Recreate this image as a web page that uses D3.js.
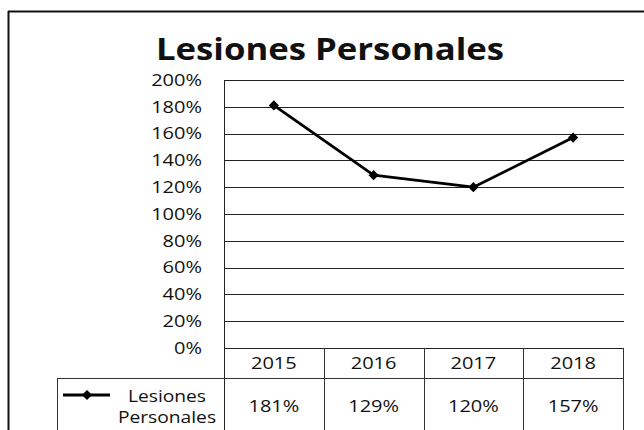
<!DOCTYPE html>
<html>
<head>
<meta charset="utf-8">
<script src="https://cdn.jsdelivr.net/npm/d3@7"></script>
<style>
  html, body { margin: 0; padding: 0; background: #fff; }
  svg { display: block; }
  text { font-family: "Open Sans", "Noto Sans", sans-serif; fill: #111; }
</style>
</head>
<body>
<svg id="chart" width="644" height="430"></svg>
<script>
// Data
const title = "Lesiones Personales";
const seriesName = ["Lesiones", "Personales"];
const years = ["2015", "2016", "2017", "2018"];
const values = [1.81, 1.29, 1.20, 1.57];
const yTicks = [0, 0.2, 0.4, 0.6, 0.8, 1.0, 1.2, 1.4, 1.6, 1.8, 2.0];

const svg = d3.select("#chart");
const W = 644, H = 430;

// Plot frame
const plot = { left: 224, right: 623, top: 80, bottom: 348 };
const table = { headerBottom: 378, bottom: 445, legendLeft: 57 };

const x = d3.scaleBand().domain(years).range([plot.left, plot.right]).padding(0);
const y = d3.scaleLinear().domain([0, 2]).range([plot.bottom, plot.top]);
const fmtPct = d3.format(".0%");

// Widen glyphs horizontally by a factor while keeping the anchor
function stretch(sel, k) {
  sel.each(function () {
    const n = this.getComputedTextLength();
    d3.select(this).attr("textLength", n * k).attr("lengthAdjust", "spacingAndGlyphs");
  });
  return sel;
}

// Outer frame (top and left edges)
svg.append("line").attr("x1", 8).attr("x2", W).attr("y1", 11.5).attr("y2", 11.5)
  .attr("stroke", "#111").attr("stroke-width", 2);
svg.append("line").attr("x1", 8.5).attr("x2", 8.5).attr("y1", 11).attr("y2", H)
  .attr("stroke", "#111").attr("stroke-width", 2);

// Title
svg.append("text")
  .attr("x", 330).attr("y", 60)
  .attr("text-anchor", "middle")
  .attr("font-size", 31).attr("font-weight", 700)
  .text(title)
  .call(stretch, 1.12);

// Horizontal gridlines
svg.append("g").selectAll("line")
  .data(yTicks)
  .join("line")
  .attr("x1", plot.left).attr("x2", plot.right + 1)
  .attr("y1", d => Math.round(y(d)) + 0.5).attr("y2", d => Math.round(y(d)) + 0.5)
  .attr("stroke", "#222").attr("stroke-width", 1);

// Y axis tick labels
svg.append("g").selectAll("text")
  .data(yTicks)
  .join("text")
  .attr("x", 202).attr("y", d => y(d))
  .attr("dy", "0.36em")
  .attr("text-anchor", "end")
  .attr("font-size", 16)
  .text(d => fmtPct(d))
  .call(stretch, 1.25);

// Left axis line running down through the table
svg.append("line")
  .attr("x1", plot.left + 0.5).attr("x2", plot.left + 0.5)
  .attr("y1", plot.top).attr("y2", table.bottom)
  .attr("stroke", "#222").attr("stroke-width", 1);

// Data table: column dividers and right edge
const edges = years.map(d => x(d)).concat([x.range()[1]]).slice(1);
svg.append("g").selectAll("line")
  .data(edges)
  .join("line")
  .attr("x1", d => Math.round(d) + 0.5).attr("x2", d => Math.round(d) + 0.5)
  .attr("y1", plot.bottom).attr("y2", table.bottom)
  .attr("stroke", "#333").attr("stroke-width", 1);

// Row divider between header and value row (includes legend cell)
svg.append("line")
  .attr("x1", table.legendLeft).attr("x2", plot.right + 1)
  .attr("y1", table.headerBottom + 0.5).attr("y2", table.headerBottom + 0.5)
  .attr("stroke", "#333").attr("stroke-width", 1);
// Legend cell left edge
svg.append("line")
  .attr("x1", table.legendLeft + 0.5).attr("x2", table.legendLeft + 0.5)
  .attr("y1", table.headerBottom).attr("y2", table.bottom)
  .attr("stroke", "#333").attr("stroke-width", 1);

// Year header labels
svg.append("g").selectAll("text")
  .data(years)
  .join("text")
  .attr("x", d => x(d) + x.bandwidth() / 2)
  .attr("y", 363).attr("dy", "0.36em")
  .attr("text-anchor", "middle")
  .attr("font-size", 16)
  .text(d => d)
  .call(stretch, 1.25);

// Value row labels
svg.append("g").selectAll("text")
  .data(values)
  .join("text")
  .attr("x", (d, i) => x(years[i]) + x.bandwidth() / 2)
  .attr("y", 406).attr("dy", "0.36em")
  .attr("text-anchor", "middle")
  .attr("font-size", 16)
  .text(d => fmtPct(d))
  .call(stretch, 1.25);

// Legend key: line with diamond marker
const diamond = d3.symbol().type(d3.symbolSquare).size(52);
svg.append("line").attr("x1", 63).attr("x2", 110).attr("y1", 395).attr("y2", 395)
  .attr("stroke", "#000").attr("stroke-width", 2.8);
svg.append("path").attr("d", diamond())
  .attr("transform", "translate(87,395) rotate(45)")
  .attr("fill", "#000");

svg.append("g").selectAll("text")
  .data(seriesName)
  .join("text")
  .attr("x", 167).attr("y", (d, i) => 396 + i * 21).attr("dy", "0.36em")
  .attr("text-anchor", "middle")
  .attr("font-size", 16)
  .text(d => d)
  .call(stretch, 1.2);

// Series line
const line = d3.line()
  .x((d, i) => x(years[i]) + x.bandwidth() / 2)
  .y(d => y(d));
svg.append("path")
  .datum(values)
  .attr("d", line)
  .attr("fill", "none")
  .attr("stroke", "#000")
  .attr("stroke-width", 2.8)
  .attr("stroke-linejoin", "round");

// Markers
svg.append("g").selectAll("path")
  .data(values)
  .join("path")
  .attr("d", diamond())
  .attr("transform", (d, i) => `translate(${x(years[i]) + x.bandwidth() / 2},${y(d)}) rotate(45)`)
  .attr("fill", "#000");
</script>
</body>
</html>
